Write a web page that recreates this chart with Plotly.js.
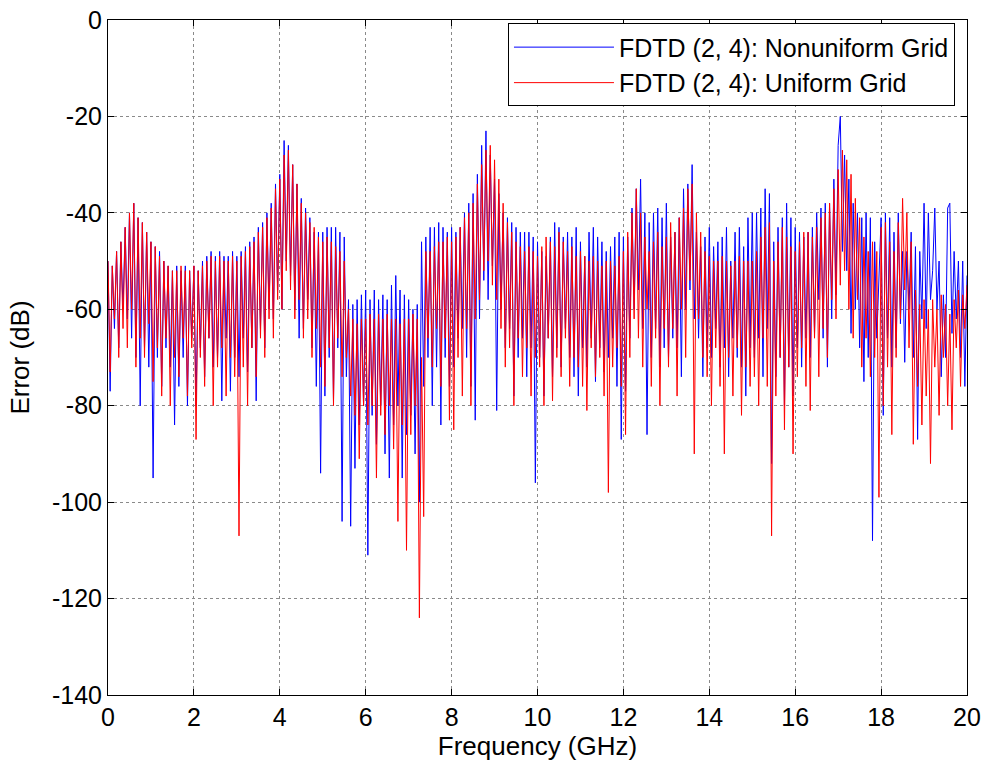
<!DOCTYPE html>
<html>
<head>
<meta charset="utf-8">
<script src="https://cdn.plot.ly/plotly-3.0.1.min.js"></script>
<style>html,body{margin:0;padding:0;background:#fff;}#chart{width:984px;height:769px;}</style>
</head>
<body>
<div id="chart"></div>
<script>
// Frequency sampling (GHz)
const freqStart = 0;
const freqStep = 0.05;

// FDTD (2, 4): Nonuniform Grid  (dB), one row per GHz
const nonuniformErr = [
-50,-77,-51,-64,-48,-68,-46,-60,-43,-62,-40,-66,-38,-70,-41,-80,-42,-68,-44,-72,
-46,-95,-47,-70,-48,-76,-50,-68,-51,-72,-52,-84,-51,-76,-52,-70,-51,-80,-52,-66,
-51,-80,-52,-68,-50,-74,-49,-66,-48,-72,-49,-70,-48,-79,-49,-66,-49,-77,-48,-70,
-49,-74,-48,-66,-47,-73,-46,-68,-45,-79,-43,-64,-42,-68,-40,-60,-38,-62,-34,-56,
-32,-60,-25,-50,-26,-53,-30,-60,-34,-66,-37,-64,-39,-58,-41,-68,-44,-76,-44,-94,
-44,-78,-43,-70,-43,-79,-43,-68,-44,-104,-45,-74,-58,-105,-59,-93,-58,-84,-57,-80,
-56,-111,-58,-82,-56,-88,-58,-80,-57,-90,-58,-95,-55,-84,-53,-80,-56,-95,-57,-86,
-58,-82,-60,-90,-59,-100,-46,-76,-45,-70,-43,-80,-43,-72,-42,-84,-43,-70,-44,-76,
-43,-72,-44,-66,-43,-64,-40,-70,-38,-76,-36,-83,-32,-62,-26,-54,-23,-58,-28,-51,
-33,-81,-36,-60,-40,-68,-41,-64,-42,-78,-43,-70,-44,-66,-44,-74,-44,-68,-45,-96,
-46,-70,-48,-78,-49,-66,-45,-74,-42,-68,-43,-72,-45,-64,-44,-70,-45,-74,-43,-78,
-46,-68,-49,-72,-44,-66,-43,-75,-45,-68,-46,-73,-48,-70,-47,-66,-45,-76,-44,-87,
-45,-77,-45,-66,-39,-60,-35,-56,-33,-64,-40,-86,-42,-70,-40,-64,-39,-72,-41,-68,
-38,-70,-45,-66,-44,-68,-41,-74,-35,-60,-34,-56,-30,-62,-44,-66,-47,-74,-45,-68,
-43,-70,-47,-64,-46,-72,-45,-68,-43,-74,-50,-66,-44,-70,-43,-72,-47,-78,-41,-68,
-40,-70,-40,-66,-39,-74,-35,-64,-36,-92,-46,-74,-43,-70,-41,-80,-38,-72,-41,-78,
-43,-68,-44,-72,-45,-66,-44,-70,-43,-65,-40,-58,-39,-66,-38,-72,-38,-62,-33,-57,
-26,-20,-48,-28,-52,-33,-65,-38,-60,-40,-68,-41,-75,-40,-70,-41,-108,-46,-66,-52,
-41,-82,-40,-66,-41,-72,-44,-68,-40,-63,-48,-71,-48,-60,-44,-70,-47,-87,-48,-62,
-38,-64,-40,-58,-52,-39,-60,-50,-74,-57,-70,-39,-38,-65,-48,-62,-50,-70,-50,-76,
-53
];

// FDTD (2, 4): Uniform Grid  (dB), one row per GHz
const uniformErr = [
-50,-73,-51,-62,-48,-70,-46,-64,-43,-68,-40,-60,-38,-72,-41,-66,-42,-70,-44,-63,
-46,-75,-47,-68,-49,-78,-50,-66,-51,-80,-52,-70,-52,-74,-51,-66,-52,-78,-52,-68,
-51,-87,-52,-70,-51,-76,-50,-66,-49,-80,-50,-72,-49,-68,-50,-78,-50,-70,-49,-74,
-50,-107,-49,-72,-48,-80,-47,-68,-46,-74,-44,-66,-43,-70,-41,-62,-39,-66,-35,-58,
-33,-60,-28,-52,-27,-56,-30,-62,-34,-58,-38,-66,-40,-62,-42,-70,-43,-64,-45,-72,
-46,-76,-45,-68,-46,-80,-47,-66,-48,-74,-50,-70,-60,-78,-62,-82,-63,-91,-62,-80,
-62,-84,-61,-80,-62,-95,-61,-82,-62,-86,-61,-80,-62,-89,-62,-104,-63,-84,-62,-110,
-62,-86,-61,-80,-62,-124,-70,-103,-48,-66,-48,-72,-47,-64,-46,-76,-46,-66,-45,-83,
-46,-85,-45,-70,-43,-78,-41,-64,-40,-80,-38,-62,-34,-58,-30,-52,-27,-50,-26,-55,
-29,-58,-33,-64,-38,-72,-42,-68,-44,-80,-46,-66,-47,-74,-48,-68,-47,-78,-48,-70,
-49,-72,-47,-80,-45,-66,-46,-79,-47,-70,-44,-74,-46,-66,-48,-76,-47,-70,-49,-72,
-48,-76,-49,-81,-50,-68,-49,-74,-50,-70,-51,-78,-50,-98,-50,-72,-51,-68,-49,-76,
-48,-86,-44,-70,-40,-62,-35,-66,-40,-72,-45,-60,-48,-76,-46,-66,-44,-80,-47,-64,
-45,-72,-42,-64,-44,-78,-41,-60,-39,-70,-35,-54,-34,-90,-40,-62,-44,-70,-48,-74,
-49,-80,-50,-68,-50,-76,-49,-90,-50,-70,-51,-78,-50,-68,-49,-82,-50,-72,-50,-76,
-50,-74,-48,-80,-45,-66,-43,-76,-42,-107,-50,-78,-46,-70,-43,-85,-45,-72,-47,-90,
-48,-74,-46,-68,-44,-76,-44,-81,-45,-66,-43,-74,-41,-64,-40,-70,-38,-58,-35,-62,
-31,-55,-27,-52,-29,-60,-32,-66,-37,-58,-41,-72,-45,-66,-48,-74,-46,-70,-48,-99,
-43,-80,-42,-72,-46,-86,-48,-70,-42,-62,-37,-56,-40,-68,-46,-88,-56,-76,-59,-84,
-58,-78,-60,-92,-58,-72,-60,-82,-57,-70,-59,-80,-61,-85,-58,-68,-56,-76,-57,-64,
-55
];

const seriesNames = ['FDTD (2, 4): Nonuniform Grid', 'FDTD (2, 4): Uniform Grid'];
const xTickVals = [0,2,4,6,8,10,12,14,16,18,20];
const yTickVals = [0,-20,-40,-60,-80,-100,-120,-140];

function freqs(n){ const f=[]; for(let i=0;i<n;i++){ f.push(+(freqStart+i*freqStep).toFixed(2)); } return f; }

const FONT = 'Arial, "Liberation Sans", Helvetica, sans-serif';

const traces = [
  {x: freqs(nonuniformErr.length), y: nonuniformErr, type:'scatter', mode:'lines', name: seriesNames[0],
   line:{color:'#0000ff', width:1}},
  {x: freqs(uniformErr.length), y: uniformErr, type:'scatter', mode:'lines', name: seriesNames[1],
   line:{color:'#ff0000', width:1}}
];

const axisCommon = {
  showline:true, linecolor:'#000', linewidth:1, mirror:'ticks',
  ticks:'inside', ticklen:6, tickcolor:'#000', tickwidth:1,
  showgrid:true, gridcolor:'#8a8a8a', griddash:'dot', gridwidth:1,
  zeroline:false, tickfont:{family:FONT, size:25, color:'#000'}
};

const layout = {
  width:984, height:769,
  margin:{l:108, r:17, t:20, b:74},
  paper_bgcolor:'#fff', plot_bgcolor:'#fff',
  showlegend:true,
  font:{family:FONT, size:25, color:'#000'},
  xaxis: Object.assign({}, axisCommon, {
    range:[0,20], tickvals:xTickVals, ticktext:xTickVals.map(String),
    title:{text:'Frequency (GHz)', font:{family:FONT, size:26, color:'#000'}, standoff:2},
    automargin:false
  }),
  yaxis: Object.assign({}, axisCommon, {
    range:[-140,0], tickvals:yTickVals, ticktext:yTickVals.map(String),
    title:{text:'Error (dB)', font:{family:FONT, size:26, color:'#000'}, standoff:14},
    automargin:false
  }),
  legend:{
    x:0.986, xanchor:'right', y:0.995, yanchor:'top',
    bgcolor:'#fff', bordercolor:'#000', borderwidth:1,
    font:{family:FONT, size:25, color:'#000'},
    itemwidth:100, tracegroupgap:0
  }
};

Plotly.newPlot('chart', traces, layout, {staticPlot:true, displayModeBar:false});
</script>
</body>
</html>
